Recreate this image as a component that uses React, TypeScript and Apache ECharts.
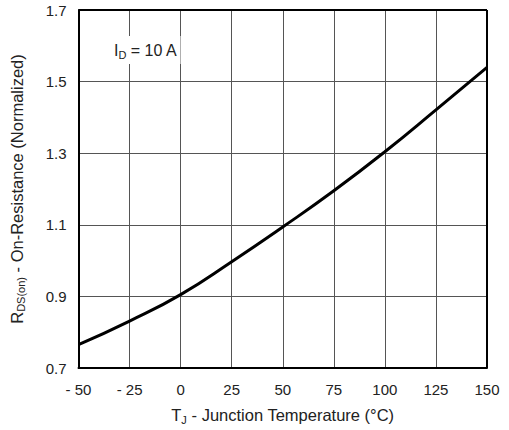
import React, { useEffect, useRef } from "react";
import * as echarts from "echarts";

const temps = [-50, -25, 0, 25, 50, 75, 100, 125, 150];
const rdsOn = [0.765, 0.831, 0.905, 0.997, 1.094, 1.195, 1.304, 1.421, 1.54];
const xTicks = [-50, -25, 0, 25, 50, 75, 100, 125, 150];
const yTicks = [0.7, 0.9, 1.1, 1.3, 1.5, 1.7];

const FONT = "'Liberation Sans', Arial, sans-serif";

export default function App() {
  const ref = useRef<HTMLDivElement>(null);
  useEffect(() => {
    if (!ref.current) return;
    const chart = echarts.init(ref.current, null, { renderer: "svg" });
    chart.setOption({
      animation: false,
      backgroundColor: "#ffffff",
      grid: { left: 78, right: 22, top: 10, bottom: 57, containLabel: false },
      xAxis: {
        type: "value",
        min: -50,
        max: 150,
        interval: 25,
        name: "{n|T}{s|J}{n| - Junction Temperature (°C)}",
        nameLocation: "middle",
        nameGap: 37,
        nameTextStyle: {
          rich: {
            n: { fontFamily: FONT, fontSize: 16.5, color: "#222" },
            s: { fontFamily: FONT, fontSize: 11, color: "#222", padding: [9, 0, 0, 0] },
          },
        },
        axisLine: { show: true, onZero: false, lineStyle: { color: "#000", width: 2 } },
        axisTick: { show: false },
        splitLine: { show: true, lineStyle: { color: "#555", width: 1 } },
        axisLabel: {
          margin: 14,
          fontFamily: FONT,
          fontSize: 15,
          color: "#222",
          formatter: (v: number) => (xTicks.includes(v) ? (v < 0 ? "- " + Math.abs(v) : String(v)) : ""),
        },
      },
      yAxis: {
        type: "value",
        min: 0.7,
        max: 1.7,
        interval: 0.2,
        name: "{n|R}{s|DS(on)}{n| - On-Resistance (Normalized)}",
        nameLocation: "middle",
        nameGap: 52,
        nameTextStyle: {
          rich: {
            n: { fontFamily: FONT, fontSize: 16.5, color: "#222" },
            s: { fontFamily: FONT, fontSize: 11, color: "#222", padding: [9, 0, 0, 0] },
          },
        },
        axisLine: { show: true, onZero: false, lineStyle: { color: "#000", width: 2 } },
        axisTick: { show: false },
        splitLine: { show: true, lineStyle: { color: "#555", width: 1 } },
        axisLabel: {
          margin: 12,
          fontFamily: FONT,
          fontSize: 15,
          color: "#222",
          formatter: (v: number) => {
            const t = yTicks.find((y) => Math.abs(y - v) < 1e-6);
            return t !== undefined ? t.toFixed(1) : "";
          },
        },
      },
      series: [
        {
          type: "line",
          data: temps.map((t, i) => [t, rdsOn[i]]),
          smooth: true,
          showSymbol: false,
          lineStyle: { color: "#000", width: 3 },
          z: 5,
        },
        {
          type: "line",
          data: [[-50, 1.7], [150, 1.7]],
          showSymbol: false,
          lineStyle: { color: "#000", width: 2 },
          silent: true,
        },
        {
          type: "line",
          data: [[150, 0.7], [150, 1.7]],
          showSymbol: false,
          lineStyle: { color: "#000", width: 2 },
          silent: true,
        },
      ],
      graphic: [
        {
          type: "text",
          left: 111,
          top: 36,
          z: 10,
          style: {
            text: "{n|I}{s|D}{n| = 10 A}",
            backgroundColor: "#fff",
            padding: [4, 3, 4, 3],
            rich: {
              n: { fontFamily: FONT, fontSize: 16, fill: "#222", color: "#222" },
              s: { fontFamily: FONT, fontSize: 11, fill: "#222", color: "#222", padding: [9, 0, 0, 0] },
            },
          },
        },
      ],
    });
    return () => chart.dispose();
  }, []);
  return <div ref={ref} style={{ width: 509, height: 430, position: "absolute", left: 0, top: 0 }} />;
}
